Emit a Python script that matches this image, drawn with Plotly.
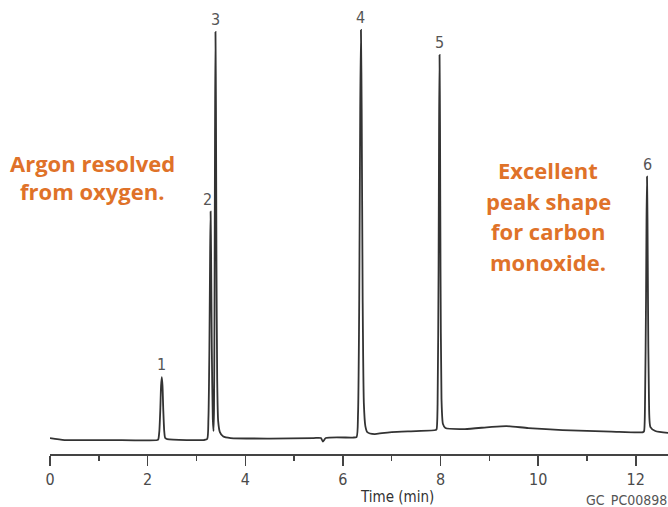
import plotly.graph_objects as go

# Chromatogram trace (time in min, detector signal in arbitrary units)
time_min = [0.0, 0.3, 1.2, 2.2, 2.22, 2.24, 2.26, 2.275, 2.29, 2.305, 2.32, 2.34, 2.36, 2.4, 2.8, 3.15,
            3.22, 3.245, 3.265, 3.28, 3.29, 3.30, 3.315, 3.335, 3.35, 3.36, 3.37, 3.38, 3.39, 3.40,
            3.41, 3.425, 3.445, 3.48, 3.55, 3.7, 4.5, 5.4, 5.55, 5.59, 5.65, 6.2, 6.28, 6.31, 6.335,
            6.355, 6.37, 6.385, 6.405, 6.43, 6.46, 6.5, 6.65, 6.8, 7.0, 7.5, 7.9, 7.92, 7.94, 7.96,
            7.97, 7.98, 7.99, 8.0, 8.02, 8.05, 8.1, 8.5, 9.0, 9.35, 9.8, 10.5, 11.5, 12.15, 12.17,
            12.19, 12.21, 12.22, 12.23, 12.24, 12.25, 12.27, 12.30, 12.4, 12.7]
signal = [0.1, -0.1, -0.1, -0.1, 0.0, 0.8, 3.0, 5.3, 6.2, 5.3, 3.0, 0.8, 0.1, 0.0, -0.1, -0.1,
          0.0, 2.0, 9.0, 18.5, 22.8, 18.5, 9.0, 2.0, 0.8, 3.0, 13.0, 30.0, 40.8, 33.0,
          18.0, 6.0, 1.8, 0.7, 0.25, 0.1, 0.05, 0.1, 0.1, -0.25, 0.1, 0.15, 0.2, 2.5, 14.0,
          33.0, 41.0, 33.0, 14.0, 3.5, 1.3, 0.7, 0.5, 0.6, 0.7, 0.8, 0.9, 1.0, 3.5, 17.0,
          31.0, 38.5, 31.0, 17.0, 4.0, 1.5, 1.1, 1.0, 1.2, 1.3, 1.1, 0.9, 0.75, 0.7, 0.8,
          4.0, 14.0, 22.0, 26.3, 22.0, 14.0, 4.0, 1.2, 0.8, 0.6]

peak_labels = ["1", "2", "3", "4", "5", "6"]
peak_times = [2.29, 3.29, 3.39, 6.37, 7.98, 12.23]
peak_heights = [6.2, 22.8, 40.8, 41.0, 38.5, 26.3]

tick_vals = [0, 2, 4, 6, 8, 10, 12]
tick_text = ["0", "2", "4", "6", "8", "10", "12"]

left_note = ["Argon resolved", "from oxygen."]
right_note = ["Excellent", "peak shape", "for carbon", "monoxide."]

ORANGE = "#DF7229"
GRAY = "#4a4a4a"
COND = "Liberation Sans Narrow, DejaVu Sans Condensed, sans-serif"

fig = go.Figure()
fig.add_trace(go.Scatter(x=time_min, y=signal, mode="lines",
                         line=dict(color="#333333", width=1.8, shape="spline", smoothing=0.6),
                         hoverinfo="skip"))

ann = []
for lab, t, h in zip(peak_labels, peak_times, peak_heights):
    ann.append(dict(x=t, y=h, xref="x", yref="y", text=lab, showarrow=False,
                    yanchor="bottom", yshift=1, xshift=(-3 if lab == "2" else 0),
                    font=dict(family=COND, size=16, color="#555555")))

left_y = [0.641, 0.579]
for txt, yy in zip(left_note, left_y):
    ann.append(dict(x=0.068, y=yy, xref="paper", yref="paper", text="<b>%s</b>" % txt,
                    showarrow=False, xanchor="center", yanchor="middle",
                    font=dict(family="Open Sans, sans-serif", size=22, color=ORANGE)))
right_y = [0.6256, 0.557, 0.491, 0.423]
for txt, yy in zip(right_note, right_y):
    ann.append(dict(x=0.806, y=yy, xref="paper", yref="paper", text="<b>%s</b>" % txt,
                    showarrow=False, xanchor="center", yanchor="middle",
                    font=dict(family="Open Sans, sans-serif", size=22, color=ORANGE)))

ann.append(dict(x=0.561, y=0, xref="paper", yref="paper", text="Time (min)", showarrow=False,
                xanchor="center", yanchor="middle", yshift=-43,
                font=dict(family=COND, size=15, color="#333333")))
ann.append(dict(x=0.864, y=0, xref="paper", yref="paper", text="GC_PC00898", showarrow=False,
                xanchor="left", yanchor="middle", yshift=-46,
                font=dict(family=COND, size=14, color="#555555")))

fig.update_layout(
    width=668, height=507,
    margin=dict(l=50, r=0, t=0, b=53),
    paper_bgcolor="white", plot_bgcolor="white",
    showlegend=False,
    annotations=ann,
    xaxis=dict(range=[0, 12.66], showgrid=False, zeroline=False,
               showline=True, linecolor="#444444", linewidth=1.5,
               ticks="outside", ticklen=10, tickwidth=1.5, tickcolor="#444444",
               tickvals=tick_vals, ticktext=tick_text,
               tickfont=dict(family=COND, size=16, color=GRAY),
               minor=dict(dtick=1, tick0=0, ticks="outside", ticklen=5, tickwidth=1.5,
                          tickcolor="#444444", showgrid=False)),
    yaxis=dict(range=[-1.5, 44], visible=False, showgrid=False, zeroline=False),
)

fig.write_html("out.html", config={"displayModeBar": False, "staticPlot": True},
               post_script="document.body.style.margin='0';document.body.style.overflow='hidden';")
